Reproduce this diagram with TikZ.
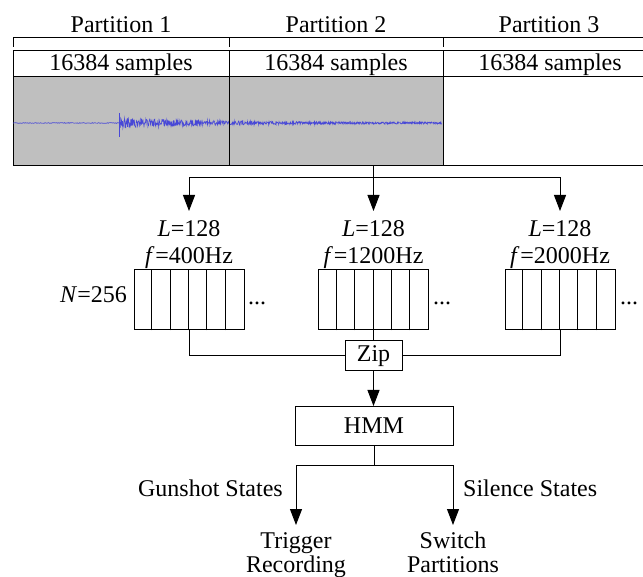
\documentclass[tikz,border=0pt]{standalone}
\usepackage{fontspec}
\setmainfont{Liberation Serif}
\usetikzlibrary{arrows.meta}
\definecolor{wavecol}{RGB}{72,72,215}
\begin{document}
\begin{tikzpicture}[x=1pt,y=-1pt,
  every node/.style={font=\fontsize{24}{24}\selectfont, inner sep=0pt},
  txt/.style={anchor=base},
  line/.style={line width=1pt, draw=black},
  arr/.style={line width=1pt, -{Triangle[width=12pt,length=16pt]}},
  sampbox/.style={draw, line width=1pt, minimum height=26pt, text height=20pt, text depth=6pt},
  wavebox/.style={draw, line width=1pt, minimum height=89pt},
  cellbox/.style={draw, line width=1pt, minimum width=110pt, minimum height=60pt},
  procbox/.style={draw, line width=1pt},
]
\useasboundingbox (0,0) rectangle (643,577);

% partition labels and bracket
\node[txt] (p1) at (121,33) {Partition 1};
\node[txt] (p2) at (336,33) {Partition 2};
\node[txt] (p3) at (549,33) {Partition 3};
\draw[line] (13,47) -- (13,38) -- (660,38);
\draw[line] (229,38) -- (229,47);
\draw[line] (443,38) -- (443,47);

% sample boxes
\node[sampbox, minimum width=216pt] (s1) at (121,64) {16384 samples};
\node[sampbox, minimum width=214pt] (s2) at (336,64) {16384 samples};
\node[sampbox, minimum width=214pt] (s3) at (550,64) {16384 samples};

% waveform boxes
\node[wavebox, fill=gray!50, minimum width=216pt] (w1) at (121,121.5) {};
\node[wavebox, fill=gray!50, minimum width=214pt] (w2) at (336,121.5) {};
\node[wavebox, fill=white, minimum width=214pt] (w3) at (550,121.5) {};

% waveform
\pgfmathsetseed{11}
\draw[wavecol, line width=0.7pt] plot[domain=13:119, samples=120] (\x,{123+0.4*rand});
\draw[wavecol, line width=0.6pt] plot[domain=120:442, samples=900] (\x,{123+(4.8*exp(-(\x-120)/85)+0.9)*rand});
\draw[wavecol, line width=0.8pt] (119.5,113) -- (119.5,137);
\draw[line] (229,77) -- (229,166);

% distribution arrows
\coordinate (top) at (373.5,178);
\coordinate (a1) at (189,211);
\coordinate (a2) at (373.5,211);
\coordinate (a3) at (560,211);
\draw[line] (w2.south -| top) -- (top);
\draw[arr] (top) -| (a1);
\draw[arr] (top) -- (a2);
\draw[arr] (top) -| (a3);

% filter labels
\node[txt] (l1) at (189,237) {\textit{L}=128};
\node[txt] (l2) at (373.5,237) {\textit{L}=128};
\node[txt] (l3) at (560,237) {\textit{L}=128};
\node[txt] (f1) at (189,264) {\textit{f}\kern1pt=400Hz};
\node[txt] (f2) at (373.5,264) {\textit{f}\kern1pt=1200Hz};
\node[txt] (f3) at (560,264) {\textit{f}\kern1pt=2000Hz};

% cell boxes
\node[cellbox] (b1) at (189,300) {};
\node[cellbox] (b2) at (373.5,300) {};
\node[cellbox] (b3) at (560,300) {};
\foreach \b in {b1,b2,b3}{
  \foreach \i in {1,...,5}{
    \draw[line] ([xshift=\i*110/6 pt]\b.south west) -- ([xshift=\i*110/6 pt]\b.north west);
  }
}
\node[txt, anchor=base east] (n) at (127,303) {\textit{N}=256};
\node[txt, anchor=base west] (d1) at (248,305) {...};
\node[txt, anchor=base west] (d2) at (433,305) {...};
\node[txt, anchor=base west] (d3) at (620,305) {...};

% zip and hmm
\node[procbox, minimum width=57pt, minimum height=30pt, text height=16pt, text depth=5pt] (zip) at (373.5,356) {Zip};
\draw[line] (b2.south) -- (zip.north);
\draw[line] (b1.south) |- (zip.west);
\draw[line] (b3.south) |- (zip.east);
\node[procbox, minimum width=158pt, minimum height=39pt] (hmm) at (374,426) {HMM};
\draw[arr] (zip.south) -- (zip.south |- hmm.north);

% outputs
\coordinate (split) at (374,465);
\coordinate (g) at (296,525);
\coordinate (s) at (453,525);
\draw[line] (hmm.south) -- (split);
\draw[arr] (split) -| (g);
\draw[arr] (split) -| (s);
\node[txt, anchor=base east] (gs) at (283,496) {Gunshot States};
\node[txt, anchor=base west] (ss) at (463,496) {Silence States};
\node[txt] (t1) at (296,548) {Trigger};
\node[txt] (t2) at (296,572) {Recording};
\node[txt] (sw1) at (453,548) {Switch};
\node[txt] (sw2) at (453,572) {Partitions};
\end{tikzpicture}
\end{document}
